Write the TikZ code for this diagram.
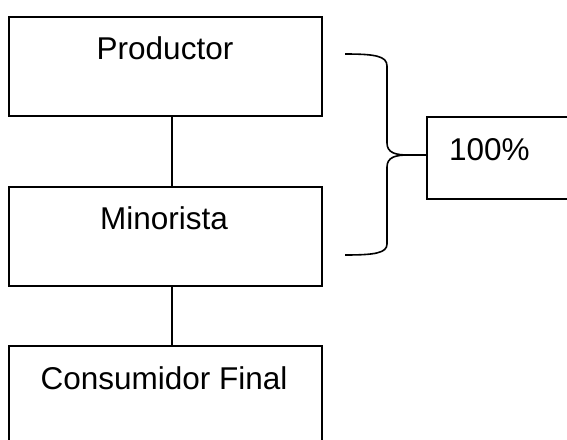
\documentclass[tikz,border=0pt]{standalone}
\usepackage{fontspec}
\setmainfont{Liberation Sans}
\begin{document}
\begin{tikzpicture}[x=1pt,y=1pt,
  box/.style={draw,line width=1.5pt,rectangle,inner sep=0pt},
  lbl/.style={font=\fontsize{31.5}{36}\selectfont,inner sep=0pt},
  conn/.style={line width=1.6pt}]
\useasboundingbox (0,0) rectangle (567,-439);
\fill[white] (0,0) rectangle (567,-439);
% boxes
\node[box,minimum width=313pt,minimum height=99pt] (prod) at (165.5,-66.5) {};
\node[box,minimum width=313pt,minimum height=99pt] (mino) at (165.5,-236.5) {};
\node[box,minimum width=313pt,minimum height=110pt] (cons) at (165.5,-401) {};
\node[box,minimum width=160pt,minimum height=82pt] (pct) at (507,-158) {};
% labels
\node[lbl] (tprod) at (165,-48) {Productor};
\node[lbl] (tmino) at (164,-218) {Minorista};
\node[lbl] (tcons) at (164,-378) {Consumidor Final};
\node[lbl,anchor=west] (tpct) at (449,-150) {100\%};
% connectors
\draw[conn] ([xshift=6.5pt]prod.south) -- ([xshift=6.5pt]mino.north);
\draw[conn] ([xshift=6.5pt]mino.south) -- ([xshift=6.5pt]cons.north);
% brace
\coordinate (btop) at (345,-54);
\coordinate (bbot) at (345,-255);
\coordinate (tip) at (408,-155);
\draw[conn,line join=round] (btop) .. controls (375,-54) and (387,-56) .. (387,-66)
  -- (387,-143) .. controls (387,-153) and (396,-155) .. (tip)
  .. controls (396,-155) and (387,-157) .. (387,-167)
  -- (387,-244) .. controls (387,-253) and (375,-255) .. (bbot);
\draw[conn] (tip) -- (pct.west |- tip);
\end{tikzpicture}
\end{document}
